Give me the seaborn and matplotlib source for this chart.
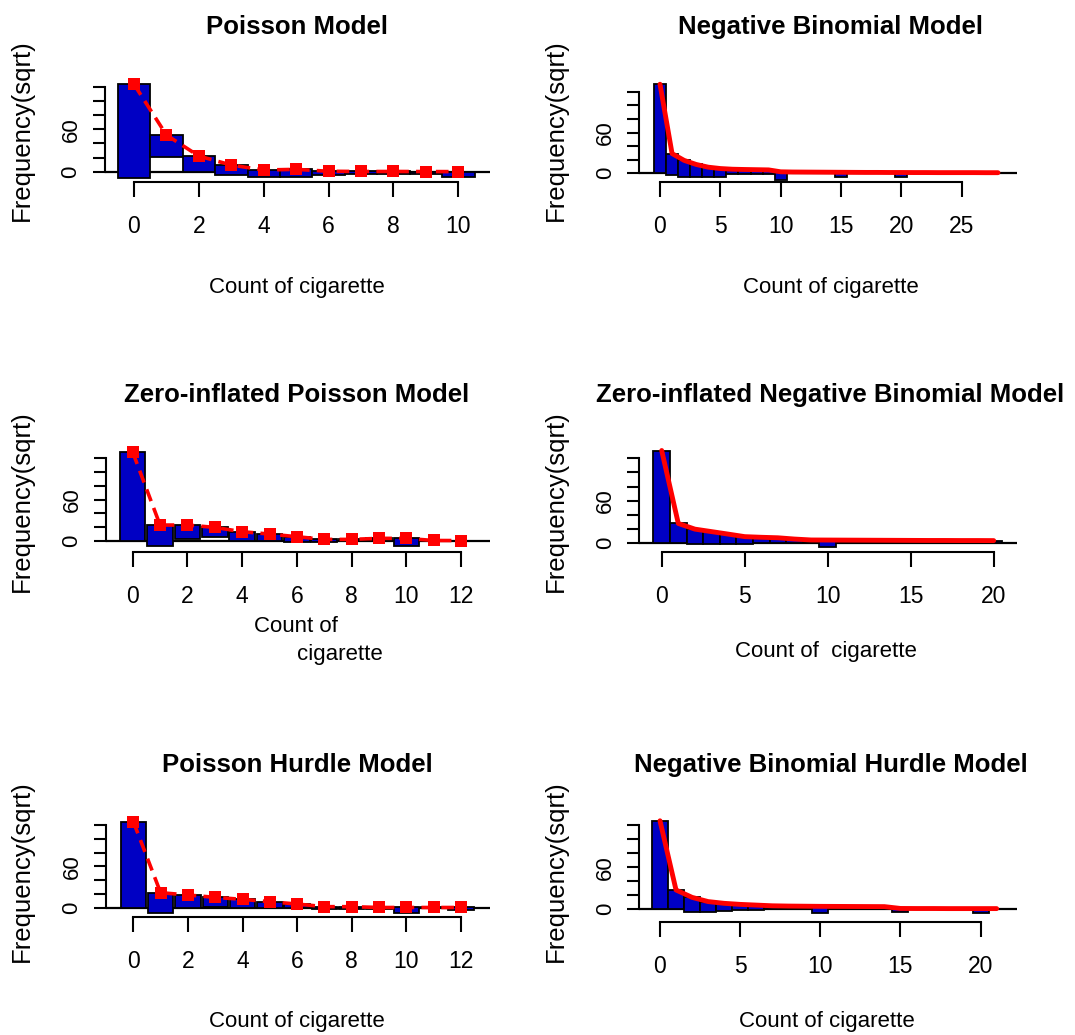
import numpy as np
import pandas as pd
import matplotlib
matplotlib.use("Agg")
import matplotlib.pyplot as plt
import seaborn as sns

# ---------------- data (square-root scale) ----------------
# Poisson model
pois_x = list(range(0, 11))
pois_expected = [123.5, 51.8, 22.1, 9.4, 2.4, 3.3, 0.6, 0.3, 0.3, 0.2, 0.1]
pois_observed = [133.0, 30.6, 22.1, 14.0, 10.4, 11.0, 5.0, 4.0, 4.0, 3.5, 8.0]

# Negative binomial model
nb_x = list(range(0, 29))
nb_expected = [131, 29, 19, 13, 9, 7, 6, 5.6, 5.3, 5.0, 2.2, 1.9, 1.8, 1.7, 1.6,
               1.5, 1.4, 1.3, 1.3, 1.2, 1.2, 1.1, 1.1, 1.0, 1.0, 1.0, 1.0, 0.9, 0.9]
nb_observed = [131, 31.5, 24, 18, 14, 12, 7.5, 7, 6.8, 6.5, 12, 0, 0, 0, 0,
               6.5, 0, 0, 0, 0, 6, 0, 0, 0, 0, 0, 0, 0, 0]

# Zero-inflated Poisson model
zip_x = list(range(0, 13))
zip_expected = [129, 22.8, 22.8, 19.4, 13.1, 9.7, 5.8, 1.9, 1.9, 3.4, 3.4, 0.3, 0.2]
zip_observed = [129, 30.6, 21.0, 13.6, 13.0, 10.0, 7.5, 3.5, 3.0, 3.0, 11.0, 1.0, 1.0]

# Zero-inflated negative binomial model
zinb_x = list(range(0, 21))
zinb_expected = [131, 28, 20, 16.5, 13, 9.4, 8.5, 7.8, 6.0, 4.7, 4.6, 4.5, 4.4, 4.3,
                 4.2, 4.1, 4.0, 4.0, 3.9, 3.9, 3.8]
zinb_observed = [131, 28, 21, 18, 14, 11, 8.5, 7.8, 6.0, 0, 9.3, 0, 0, 0,
                 0, 0, 0, 0, 0, 0, 3.8]

# Poisson hurdle model
hp_x = list(range(0, 13))
hp_expected = [125, 21.8, 18.4, 15.0, 12.1, 8.7, 5.3, 1.5, 1.5, 0.3, 0.3, 0.3, 0.3]
hp_observed = [125, 30.0, 18.4, 13.5, 13.0, 9.7, 6.3, 3.0, 3.0, 2.0, 7.3, 1.0, 3.0]

# Negative binomial hurdle model
nbh_x = list(range(0, 22))
nbh_expected = [126, 27.5, 17, 11, 8.5, 7, 6, 5, 4.6, 4.4, 4.2, 4.1, 4.0, 3.9,
                3.8, 1.2, 1.1, 1.1, 1.0, 1.0, 1.0, 1.0]
nbh_observed = [126, 27.5, 20.4, 14.2, 10.9, 8.5, 7.6, 5, 0, 0, 9.2, 0, 0, 0,
                0, 5.7, 0, 0, 0, 0, 6.0, 0]

titles = ["Poisson Model", "Negative Binomial Model",
          "Zero-inflated Poisson Model", "Zero-inflated Negative Binomial Model",
          "Poisson Hurdle Model", "Negative Binomial Hurdle Model"]
ylabel_text = "Frequency(sqrt)"

# ---------------- style ----------------
sns.set_theme(style="white")
FONT = ["Liberation Sans", "DejaVu Sans"]
plt.rcParams["font.family"] = FONT
plt.rcParams["text.color"] = "black"
plt.rcParams["xtick.color"] = "black"
plt.rcParams["ytick.color"] = "black"

BLUE = "#0000C4"
W, H = 1075, 1035
fig = plt.figure(figsize=(W / 100, H / 100), dpi=100)

# layout in pixels: left, right, x0px, px per unit, y0px, y120px, bottom px
layout = [
    (105, 490, 134.0, 32.43, 171.7, 86.7, 181.7),
    (639.3, 1016.7, 660.0, 12.07, 173.3, 91.7, 181.7),
    (106, 490, 132.7, 27.36, 540.7, 458.3, 551.7),
    (639.3, 1016.7, 661.7, 16.6, 543.3, 458.3, 551.7),
    (106, 490, 133.3, 27.31, 907.7, 825.0, 916.7),
    (639.3, 1017, 660.0, 16.03, 909.3, 825.0, 921.7),
]

panels = [
    (pois_x, pois_expected, pois_observed, "pois", 1.0, list(range(0, 11, 2))),
    (nb_x, nb_expected, nb_observed, "nb", 1.0, list(range(0, 26, 5))),
    (zip_x, zip_expected, zip_observed, "pois", 0.93, list(range(0, 13, 2))),
    (zinb_x, zinb_expected, zinb_observed, "nb", 1.0, list(range(0, 21, 5))),
    (hp_x, hp_expected, hp_observed, "pois", 0.93, list(range(0, 13, 2))),
    (nbh_x, nbh_expected, nbh_observed, "nb", 1.0, list(range(0, 21, 5))),
]

YTOP = 140.0
for (L, R, x0, xu, y0, y120, bot), (x, ex, ob, kind, width, xticks) in zip(layout, panels):
    upp = 120.0 / (y0 - y120)
    ylo = -(bot - y0) * upp
    top = y0 - YTOP / upp
    ax = fig.add_axes([L / W, 1 - bot / H, (R - L) / W, (bot - top) / H])
    ax.patch.set_alpha(0)
    ax.set_xlim((L - x0) / xu, (R - x0) / xu)
    ax.set_ylim(ylo, YTOP)

    ex = np.asarray(ex, float)
    ob = np.asarray(ob, float)
    ax.axhline(0, color="black", lw=1.6, zorder=1)
    ax.bar(x, ob, bottom=ex - ob, width=width, color=BLUE,
           edgecolor="black", linewidth=1.3, zorder=2)
    df = pd.DataFrame({"count": x, "expected": ex})
    if kind == "pois":
        sns.lineplot(data=df, x="count", y="expected", ax=ax, color="red",
                     lw=2.6, linestyle=(0, (3.5, 2.0)), zorder=3)
        sns.scatterplot(data=df, x="count", y="expected", ax=ax, color="red",
                        marker="s", s=70, edgecolor="red", linewidth=0, zorder=4)
    else:
        sns.lineplot(data=df, x="count", y="expected", ax=ax, color="red",
                     lw=3.5, zorder=3)

    ax.set_xlabel("")
    ax.set_ylabel("")
    ax.grid(False)
    for s in ["top", "right"]:
        ax.spines[s].set_visible(False)
    for s in ["left", "bottom"]:
        ax.spines[s].set_color("black")
        ax.spines[s].set_linewidth(1.5)
    ax.spines["left"].set_bounds(0, 120)
    ax.spines["bottom"].set_bounds(xticks[0], xticks[-1])

    ax.set_yticks(list(range(0, 121, 20)))
    ax.set_yticklabels(["0", "", "", "60", "", "", ""], rotation=90, va="center",
                       fontsize=16)
    ax.set_xticks(xticks)
    ax.set_xticklabels([str(t) for t in xticks], fontsize=16.5)
    ax.tick_params(axis="y", direction="out", length=9, width=1.5, pad=8,
                   colors="black", left=True)
    ax.tick_params(axis="x", direction="out", length=11, width=1.5, pad=13,
                   colors="black", bottom=True)

# titles
title_pos = [(297, 34), (831, 34), (297, 402), (830, 402), (297, 772), (831, 772)]
for t, (tx, ty) in zip(titles, title_pos):
    fig.text(tx / W, 1 - ty / H, t, ha="center", va="baseline",
             fontsize=18.5, fontweight="bold", color="black")

# x labels
XL = 16
fig.text(297 / W, 1 - 293 / H, "Count of cigarette", ha="center", va="baseline", fontsize=XL)
fig.text(831 / W, 1 - 293 / H, "Count of cigarette", ha="center", va="baseline", fontsize=XL)
fig.text(296 / W, 1 - 631.7 / H, "Count of", ha="center", va="baseline", fontsize=XL)
fig.text(340 / W, 1 - 660 / H, "cigarette", ha="center", va="baseline", fontsize=XL)
fig.text(826 / W, 1 - 656.7 / H, "Count of  cigarette", ha="center", va="baseline", fontsize=XL)
fig.text(297 / W, 1 - 1026.7 / H, "Count of cigarette", ha="center", va="baseline", fontsize=XL)
fig.text(827 / W, 1 - 1026.7 / H, "Count of cigarette", ha="center", va="baseline", fontsize=XL)

# y labels
for yx in (22, 556):
    for yy in (130, 501, 871):
        fig.text(yx / W, 1 - yy / H, ylabel_text, rotation=90, ha="center",
                 va="center", fontsize=18.5, color="black")

fig.savefig("out.png", dpi=100)
